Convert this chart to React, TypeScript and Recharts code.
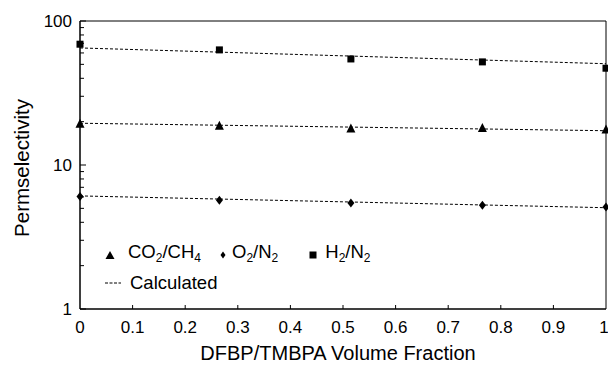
import { ComposedChart, Scatter, Line, XAxis, YAxis, ReferenceArea } from 'recharts'

const fractions = [0, 0.265, 0.515, 0.765, 1]
const co2ch4 = [19.2, 18.6, 17.8, 17.9, 17.5]
const o2n2 = [6.05, 5.7, 5.45, 5.25, 5.1]
const h2n2 = [69, 63, 54.5, 52, 47]

// calculated (dashed) lines, end points
const calcFractions = [0, 1]
const co2ch4Calc = [19.5, 17.3]
const o2n2Calc = [6.1, 5.05]
const h2n2Calc = [65, 50.5]

const xTicks = [0, 0.1, 0.2, 0.3, 0.4, 0.5, 0.6, 0.7, 0.8, 0.9, 1]
const yTicks = [1, 2, 3, 4, 5, 6, 7, 8, 9, 10, 20, 30, 40, 50, 60, 70, 80, 90, 100]
const yMajor = [1, 10, 100]

const toPoints = (vals: number[]) => fractions.map((x, i) => ({ x, y: vals[i] }))
const calcData = calcFractions.map((x, i) => ({
  x,
  co2: co2ch4Calc[i],
  o2: o2n2Calc[i],
  h2: h2n2Calc[i],
}))

const FONT = '"Liberation Sans", Arial, sans-serif'
const Y_MARGIN = 8
const X_MARGIN = 18

const Triangle = ({ cx, cy }: any) => (
  <polygon points={`${cx},${cy - 5.5} ${cx - 4.5},${cy + 3.5} ${cx + 4.5},${cy + 3.5}`} fill="#000" />
)
const Diamond = ({ cx, cy }: any) => (
  <polygon points={`${cx},${cy - 4.5} ${cx + 3.5},${cy} ${cx},${cy + 4.5} ${cx - 3.5},${cy}`} fill="#000" />
)
const Square = ({ cx, cy }: any) => <rect x={cx - 3.5} y={cy - 3.5} width={7} height={7} fill="#000" />

const YTick = ({ x, y, payload }: any) => {
  const major = yMajor.includes(payload.value)
  const ax = x + Y_MARGIN
  return (
    <g>
      <line x1={ax} x2={ax + (major ? 6 : 4)} y1={y} y2={y} stroke="#000" />
      {major && (
        <text x={x} y={y} textAnchor="end" dominantBaseline="central" fontSize={17} fill="#000" fontFamily={FONT}>
          {payload.value}
        </text>
      )}
    </g>
  )
}

const XTick = ({ x, y, payload }: any) => {
  const ay = y - X_MARGIN
  const v = payload.value
  const showLine = v > 0 && v < 1
  return (
    <g>
      {showLine && <line x1={x} x2={x} y1={ay} y2={ay - 4} stroke="#000" />}
      <text x={v === 1 ? x - 2 : x} y={y} textAnchor="middle" dominantBaseline="central" fontSize={17} fill="#000" fontFamily={FONT}>
        {v}
      </text>
    </g>
  )
}

const sub = { fontSize: 12, verticalAlign: -4 }
const row = { display: 'flex', alignItems: 'center', whiteSpace: 'nowrap' as const, height: 20 }

const ChartLegend = () => (
  <div
    style={{
      position: 'absolute',
      left: 105,
      top: 245,
      fontFamily: FONT,
      fontSize: 18.5,
      color: '#000',
      lineHeight: '20px',
    }}
  >
    <div style={row}>
      <svg width={10} height={10} style={{ marginRight: 13 }}>
        <polygon points="5,1 9.5,9 0.5,9" fill="#000" />
      </svg>
      <span>CO<span style={sub}>2</span>/CH<span style={sub}>4</span></span>
      <svg width={6} height={8} style={{ marginLeft: 19, marginRight: 6 }}>
        <polygon points="3,0.5 5.5,4 3,7.5 0.5,4" fill="#000" />
      </svg>
      <span>O<span style={sub}>2</span>/N<span style={sub}>2</span></span>
      <svg width={8} height={8} style={{ marginLeft: 31, marginRight: 8 }}>
        <rect x={0.5} y={0.5} width={7} height={7} fill="#000" />
      </svg>
      <span>H<span style={sub}>2</span>/N<span style={sub}>2</span></span>
    </div>
    <div style={{ ...row, marginTop: 8 }}>
      <svg width={16} height={4} style={{ marginRight: 9 }}>
        <line x1={0} x2={16} y1={2} y2={2} stroke="#000" strokeDasharray="3 1.5" />
      </svg>
      <span>Calculated</span>
    </div>
  </div>
)

export default function App() {
  return (
    <div style={{ position: 'absolute', left: 0, top: 0, width: 608, height: 365, background: '#fff' }}>
      <ComposedChart width={608} height={365} margin={{ top: 21, right: 2, left: 0, bottom: 0 }} style={{ fontFamily: FONT }}>
        <XAxis
          type="number"
          dataKey="x"
          domain={[0, 1]}
          ticks={xTicks}
          height={56}
          tickSize={0}
          tickMargin={X_MARGIN}
          tickLine={false}
          tick={<XTick />}
          axisLine={{ stroke: '#000' }}
          interval={0}
          label={{ value: 'DFBP/TMBPA Volume Fraction', position: 'insideBottom', offset: 5, dx: -5, fontSize: 20, fill: '#000' }}
        />
        <YAxis
          type="number"
          scale="log"
          domain={[1, 100]}
          ticks={yTicks}
          width={80}
          tickSize={0}
          tickMargin={Y_MARGIN}
          tickLine={false}
          tick={<YTick />}
          axisLine={{ stroke: '#000' }}
          interval={0}
          allowDataOverflow
          label={{ value: 'Permselectivity', angle: -90, position: 'center', dx: -18, dy: 3, fontSize: 20.5, fill: '#000' }}
        />
        <ReferenceArea x1={0} x2={1} y1={1} y2={100} fill="none" stroke="#000" strokeWidth={1} ifOverflow="visible" />
        <Line data={calcData} dataKey="h2" stroke="#000" strokeWidth={1} strokeDasharray="3 2" dot={false} isAnimationActive={false} />
        <Line data={calcData} dataKey="co2" stroke="#000" strokeWidth={1} strokeDasharray="3 2" dot={false} isAnimationActive={false} />
        <Line data={calcData} dataKey="o2" stroke="#000" strokeWidth={1} strokeDasharray="3 2" dot={false} isAnimationActive={false} />
        <Scatter name="CO2/CH4" data={toPoints(co2ch4)} dataKey="y" shape={<Triangle />} isAnimationActive={false} />
        <Scatter name="O2/N2" data={toPoints(o2n2)} dataKey="y" shape={<Diamond />} isAnimationActive={false} />
        <Scatter name="H2/N2" data={toPoints(h2n2)} dataKey="y" shape={<Square />} isAnimationActive={false} />
      </ComposedChart>
      <ChartLegend />
    </div>
  )
}
